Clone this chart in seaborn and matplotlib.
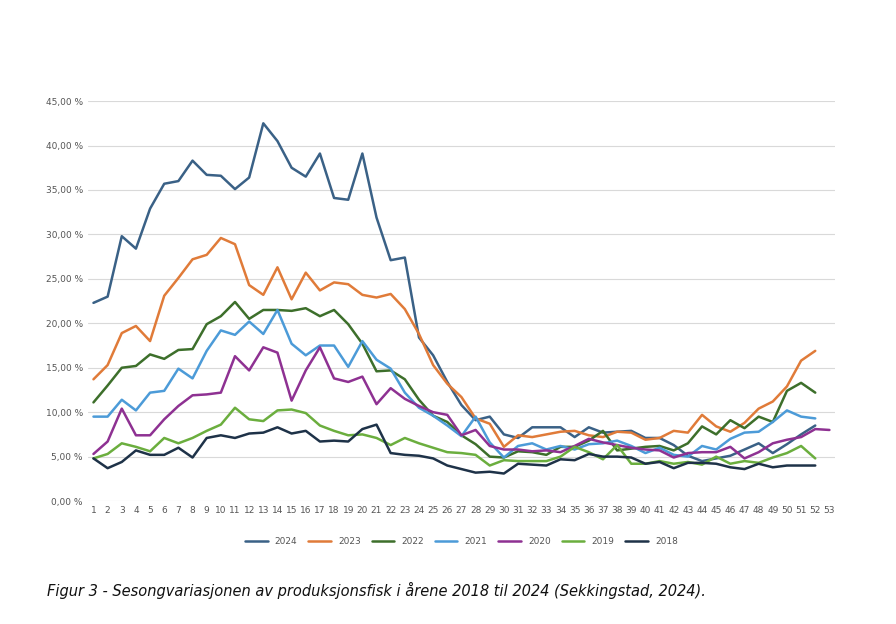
import numpy as np
import pandas as pd
import matplotlib
matplotlib.use("Agg")
import matplotlib.pyplot as plt
import seaborn as sns
from matplotlib.ticker import FuncFormatter

# Share of production fish per week, percent
y2024 = [22.3, 23.0, 29.8, 28.4, 32.9, 35.7, 36.0, 38.3, 36.7, 36.6, 35.1, 36.4, 42.5, 40.5, 37.5, 36.5, 39.1, 34.1, 33.9, 39.1, 31.9, 27.1, 27.4, 18.4,
         16.4, 13.4, 10.8, 9.1, 9.5, 7.5, 7.1, 8.3, 8.3, 8.3, 7.2, 8.3, 7.7, 7.8, 7.9, 7.1, 7.1, 6.3, 5.1, 4.5, 4.8, 5.1, 5.8, 6.5, 5.4, 6.4, 7.5, 8.5]
y2023 = [13.7, 15.3, 18.9, 19.7, 18.0, 23.1, 25.1, 27.2, 27.7, 29.6, 28.9, 24.3, 23.2, 26.3, 22.7, 25.7, 23.7, 24.6, 24.4, 23.2, 22.9, 23.3, 21.6, 18.8,
         15.3, 13.2, 11.7, 9.3, 8.7, 6.1, 7.4, 7.2, 7.5, 7.8, 7.9, 7.4, 7.2, 7.8, 7.7, 6.9, 7.1, 7.9, 7.7, 9.7, 8.4, 7.8, 8.8, 10.4, 11.2, 12.9, 15.8, 16.9]
y2022 = [11.1, 13.0, 15.0, 15.2, 16.5, 16.0, 17.0, 17.1, 19.9, 20.8, 22.4, 20.5, 21.5, 21.5, 21.4, 21.7, 20.8, 21.5, 19.9, 17.7, 14.6, 14.7, 13.7, 11.4,
         9.6, 8.9, 7.4, 6.4, 5.0, 4.9, 5.6, 5.5, 5.2, 6.1, 6.1, 6.8, 7.9, 5.7, 5.9, 6.1, 6.2, 5.7, 6.5, 8.4, 7.5, 9.1, 8.2, 9.5, 8.9, 12.4, 13.3, 12.2]
y2021 = [9.5, 9.5, 11.4, 10.2, 12.2, 12.4, 14.9, 13.8, 16.9, 19.2, 18.7, 20.2, 18.8, 21.5, 17.7, 16.4, 17.5, 17.5, 15.1, 18.0, 15.9, 14.9, 12.2, 10.5,
         9.6, 8.5, 7.3, 9.5, 6.6, 4.9, 6.2, 6.5, 5.8, 6.2, 5.8, 6.4, 6.5, 6.8, 6.2, 5.4, 6.0, 5.2, 5.0, 6.2, 5.8, 7.0, 7.7, 7.8, 8.9, 10.2, 9.5, 9.3]
y2020 = [5.3, 6.7, 10.4, 7.4, 7.4, 9.2, 10.7, 11.9, 12.0, 12.2, 16.3, 14.7, 17.3, 16.7, 11.3, 14.7, 17.3, 13.8, 13.4, 14.0, 10.9, 12.7, 11.5, 10.7,
         10.0, 9.7, 7.4, 8.0, 6.2, 5.8, 5.8, 5.6, 5.7, 5.5, 6.2, 7.0, 6.6, 6.3, 6.0, 5.8, 5.7, 4.9, 5.4, 5.5, 5.5, 6.1, 4.8, 5.5, 6.5, 6.9, 7.2, 8.1, 8.0]
y2019 = [4.8, 5.3, 6.5, 6.1, 5.6, 7.1, 6.5, 7.1, 7.9, 8.6, 10.5, 9.2, 9.0, 10.2, 10.3, 9.9, 8.5, 7.9, 7.4, 7.5, 7.1, 6.3, 7.1, 6.5,
         6.0, 5.5, 5.4, 5.2, 4.0, 4.6, 4.5, 4.5, 4.5, 5.0, 6.1, 5.5, 4.7, 6.3, 4.2, 4.2, 4.5, 4.2, 4.4, 4.1, 5.0, 4.2, 4.5, 4.3, 4.9, 5.4, 6.2, 4.8]
y2018 = [4.8, 3.7, 4.4, 5.7, 5.2, 5.2, 6.0, 4.9, 7.1, 7.4, 7.1, 7.6, 7.7, 8.3, 7.6, 7.9, 6.7, 6.8, 6.7, 8.1, 8.6, 5.4, 5.2, 5.1,
         4.8, 4.0, 3.6, 3.2, 3.3, 3.1, 4.2, 4.1, 4.0, 4.7, 4.6, 5.3, 5.0, 5.0, 4.9, 4.2, 4.4, 3.7, 4.3, 4.3, 4.2, 3.8, 3.6, 4.2, 3.8, 4.0, 4.0, 4.0]

years = ["2024", "2023", "2022", "2021", "2020", "2019", "2018"]
series = [y2024, y2023, y2022, y2021, y2020, y2019, y2018]
palette = {"2024": "#3A6186", "2023": "#E07B39", "2022": "#3D6F2B", "2021": "#4C9BD8",
           "2020": "#8E3192", "2019": "#6BAE3E", "2018": "#1E3248"}

rows = []
for yr, vals in zip(years, series):
    for i, v in enumerate(vals):
        rows.append({"uke": i + 1, "andel": v, "aar": yr})
df = pd.DataFrame(rows)

sns.set_style("white")
fig = plt.figure(figsize=(8.96, 6.24), dpi=100)
ax = fig.add_axes([0.098, 0.197, 0.834, 0.641])

sns.lineplot(data=df, x="uke", y="andel", hue="aar", hue_order=years,
             palette=palette, linewidth=1.8, ax=ax)

ax.set_xlim(0.6, 53.4)
ax.set_ylim(0, 45)
ax.set_xticks(range(1, 54))
ax.set_yticks(np.arange(0, 46, 5))
ax.yaxis.set_major_formatter(FuncFormatter(lambda v, p: f"{v:.2f}".replace(".", ",") + " %"))
ax.tick_params(axis="both", labelsize=6.5, colors="#555555", length=0)
ax.grid(axis="y", color="#D9D9D9", linewidth=0.8)
ax.set_axisbelow(True)
for s in ax.spines.values():
    s.set_visible(False)
ax.set_xlabel("")
ax.set_ylabel("")

ax.legend(loc="upper center", bbox_to_anchor=(0.5, -0.07), ncol=7, frameon=False,
          fontsize=6.5, handlelength=2.5, columnspacing=1.2, labelcolor="#555555")

fig.text(0.052, 0.045, "Figur 3 - Sesongvariasjonen av produksjonsfisk i årene 2018 til 2024 (Sekkingstad, 2024).",
         fontsize=10.5, style="italic", color="#111111")

fig.savefig("out.png", dpi=100)
